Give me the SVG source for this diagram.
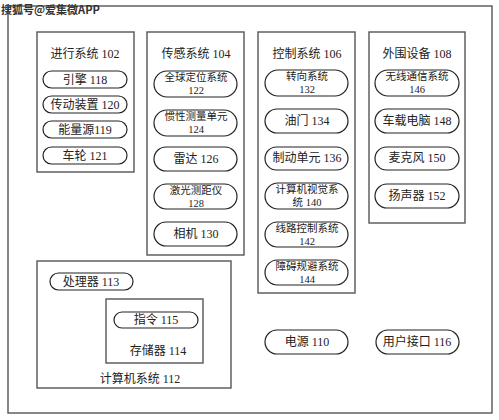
<svg xmlns="http://www.w3.org/2000/svg" width="499" height="420" viewBox="0 0 499 420">
<style>
text{font-family:"Liberation Serif","Noto Sans CJK SC",serif;font-size:12px;fill:#222;text-anchor:middle}
.t2{font-size:10.5px}
.box{fill:none;stroke:#555;stroke-width:1.4}
.pill{fill:#fff;stroke:#222;stroke-width:1.2}
.wm{font-family:"Noto Sans CJK SC",sans-serif;font-size:11px;font-weight:bold;text-anchor:start;fill:#333}
</style>
<rect width="499" height="420" fill="#fff"/>
<rect class="box" x="8" y="6" width="484" height="407"/>
<text class="wm" x="1" y="14">搜狐号@爱集微APP</text>

<g id="propulsion">
<rect class="box" x="37" y="32" width="97" height="140"/>
<text x="85" y="58">进行系统 102</text>
<rect class="pill" x="43" y="71" width="84" height="17" rx="8.5"/><text x="85" y="84">引擎 118</text>
<rect class="pill" x="43" y="96" width="84" height="17" rx="8.5"/><text x="85" y="109">传动装置 120</text>
<rect class="pill" x="43" y="121" width="84" height="17" rx="8.5"/><text x="85" y="134">能量源119</text>
<rect class="pill" x="43" y="147" width="84" height="17" rx="8.5"/><text x="85" y="160">车轮 121</text>
</g>

<g id="sensor">
<rect class="box" x="147" y="32" width="97" height="223"/>
<text x="196" y="58">传感系统 104</text>
<rect class="pill" x="154" y="71" width="83" height="26" rx="13"/><text class="t2" x="196" y="81">全球定位系统</text><text class="t2" x="196" y="94">122</text>
<rect class="pill" x="154" y="110" width="83" height="26" rx="13"/><text class="t2" x="196" y="120">惯性测量单元</text><text class="t2" x="196" y="133">124</text>
<rect class="pill" x="154" y="147" width="83" height="24" rx="12"/><text x="196" y="163">雷达 126</text>
<rect class="pill" x="154" y="184" width="83" height="25" rx="12.5"/><text class="t2" x="196" y="194">激光测距仪</text><text class="t2" x="196" y="207">128</text>
<rect class="pill" x="154" y="222" width="83" height="24" rx="12"/><text x="196" y="238">相机 130</text>
</g>

<g id="control">
<rect class="box" x="258" y="32" width="97" height="261"/>
<text x="307" y="58">控制系统 106</text>
<rect class="pill" x="265" y="70" width="83" height="26" rx="13"/><text class="t2" x="307" y="80">转向系统</text><text class="t2" x="307" y="93">132</text>
<rect class="pill" x="265" y="109" width="83" height="24" rx="12"/><text x="307" y="125">油门 134</text>
<rect class="pill" x="265" y="147" width="83" height="23" rx="11.5"/><text x="307" y="162">制动单元 136</text>
<rect class="pill" x="265" y="183" width="83" height="26" rx="13"/><text class="t2" x="307" y="193">计算机视觉系</text><text class="t2" x="307" y="206">统 140</text>
<rect class="pill" x="265" y="222" width="83" height="25" rx="12.5"/><text class="t2" x="307" y="232">线路控制系统</text><text class="t2" x="307" y="245">142</text>
<rect class="pill" x="265" y="260" width="83" height="25" rx="12.5"/><text class="t2" x="307" y="270">障碍规避系统</text><text class="t2" x="307" y="283">144</text>
</g>

<g id="peripheral">
<rect class="box" x="369" y="32" width="96" height="191"/>
<text x="417" y="58">外围设备 108</text>
<rect class="pill" x="375" y="70" width="84" height="26" rx="13"/><text class="t2" x="417" y="80">无线通信系统</text><text class="t2" x="417" y="93">146</text>
<rect class="pill" x="375" y="109" width="84" height="24" rx="12"/><text x="417" y="125">车载电脑 148</text>
<rect class="pill" x="375" y="147" width="84" height="23" rx="11.5"/><text x="417" y="162">麦克风 150</text>
<rect class="pill" x="375" y="184" width="84" height="24" rx="12"/><text x="417" y="200">扬声器 152</text>
</g>

<g id="computer">
<rect class="box" x="37" y="261" width="194" height="127"/>
<rect class="pill" x="50" y="273" width="83" height="17" rx="8.5"/><text x="91" y="286">处理器 113</text>
<rect class="box" x="106" y="299" width="97" height="64"/>
<rect class="pill" x="114" y="312" width="84" height="16" rx="8"/><text x="156" y="324">指令 115</text>
<text x="158" y="355">存储器 114</text>
<text x="140" y="383">计算机系统 112</text>
</g>

<g id="power">
<rect class="pill" x="265" y="330" width="83" height="24" rx="12"/><text x="307" y="346">电源 110</text>
</g>
<g id="ui">
<rect class="pill" x="376" y="330" width="83" height="24" rx="12"/><text x="417" y="346">用户接口 116</text>
</g>
<g id="connectors"></g>
</svg>
